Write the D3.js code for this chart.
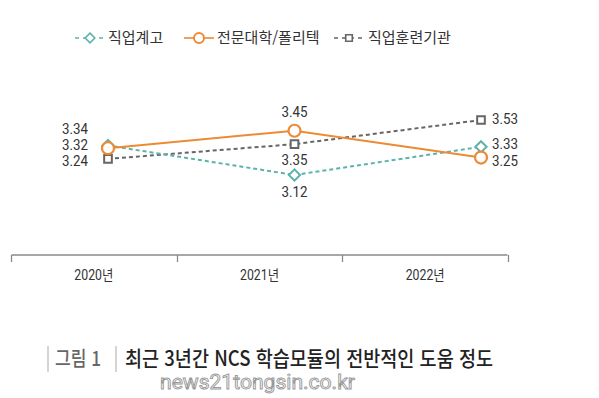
<!DOCTYPE html>
<html lang="ko">
<head>
<meta charset="UTF-8">
<title>최근 3년간 NCS 학습모듈의 전반적인 도움 정도</title>
<script src="https://d3js.org/d3.v7.min.js"></script>
<style>
  body { margin: 0; background: #fff; }
  text { font-family: Roboto, "Noto Sans CJK KR", sans-serif; }
  .kr { font-family: "Noto Sans CJK KR", "Noto Sans", sans-serif; }
</style>
</head>
<body>
<script>
  // data
  const years = ["2020년", "2021년", "2022년"];
  const seriesNames = ["직업계고", "전문대학/폴리텍", "직업훈련기관"];
  const vocational = [3.34, 3.12, 3.33];
  const college = [3.32, 3.45, 3.25];
  const training = [3.24, 3.35, 3.53];

  const width = 599, height = 398;
  const svg = d3.select("body").append("svg")
      .attr("width", width)
      .attr("height", height);

  const series = [
    { name: seriesNames[0], values: vocational, color: "#5cb3a9", dash: "4,3", symbol: d3.symbolDiamond2 },
    { name: seriesNames[1], values: college, color: "#ec8a35", dash: null, symbol: "circle" },
    { name: seriesNames[2], values: training, color: "#666", dash: "4,3", symbol: d3.symbolSquare2 }
  ];

  // scales
  const xBand = d3.scaleBand().domain(years).range([11, 508]);
  const xPoint = d3.scalePoint().domain(years).range([108, 481]);
  const y = d3.scaleLinear().domain([3.12, 3.53]).range([175, 120]);

  // axis
  const axis = svg.append("g")
      .attr("transform", "translate(0,255)")
      .call(d3.axisBottom(xBand).tickSize(0).tickPadding(20));
  axis.select(".domain").attr("stroke", "#8a8a8a").attr("stroke-width", 1.4)
      .attr("d", "M11.5,0H507.5");
  axis.selectAll(".tick text")
      .attr("font-size", 14).attr("fill", "#333")
      .attr("dy", "0.35em")
      .attr("textLength", 39).attr("lengthAdjust", "spacingAndGlyphs");
  // band edge ticks
  svg.append("g").selectAll("line")
    .data(years.map(d => xBand(d)).concat([xBand.range()[1]]))
    .join("line")
      .attr("x1", d => Math.round(d) + 0.5).attr("x2", d => Math.round(d) + 0.5)
      .attr("y1", 255).attr("y2", 262)
      .attr("stroke", "#8a8a8a").attr("stroke-width", 1.3);

  // lines
  const line = d3.line().x((d, i) => xPoint(years[i])).y(d => y(d));
  const order = [2, 0, 1];
  order.forEach(k => {
    const s = series[k];
    svg.append("path")
      .datum(s.values)
      .attr("d", line)
      .attr("fill", "none")
      .attr("stroke", s.color)
      .attr("stroke-width", 2)
      .attr("stroke-dasharray", s.dash);
  });

  function drawSymbol(g, s, cx, cy) {
    if (s.symbol === "circle") {
      g.append("circle").attr("cx", cx).attr("cy", cy).attr("r", 6)
        .attr("fill", "#fff").attr("stroke", s.color).attr("stroke-width", 2.2);
    } else {
      const size = s.symbol === d3.symbolSquare2 ? 75 : 80;
      g.append("path")
        .attr("d", d3.symbol(s.symbol, size)())
        .attr("transform", `translate(${cx},${cy})`)
        .attr("fill", "#fff").attr("stroke", s.color).attr("stroke-width", 2);
    }
  }

  order.forEach(k => {
    const s = series[k];
    const g = svg.append("g");
    s.values.forEach((v, i) => drawSymbol(g, s, xPoint(years[i]), y(v)));
  });

  // value labels
  const lab = svg.append("g").attr("font-size", 14).attr("fill", "#333");
  function valueText(x, cy, v, anchor) {
    lab.append("text").attr("x", x).attr("y", cy).attr("dy", "0.35em")
      .attr("text-anchor", anchor)
      .attr("textLength", 26).attr("lengthAdjust", "spacingAndGlyphs")
      .text(v.toFixed(2));
  }
  // 2020: stacked to the left
  const x0 = xPoint(years[0]) - 20;
  [[vocational[0], 129], [college[0], 145], [training[0], 161]]
    .forEach(([v, cy]) => valueText(x0, cy, v, "end"));
  // 2021: centred above / below
  const x1 = xPoint(years[1]);
  [[college[1], 112], [training[1], 160], [vocational[1], 192]]
    .forEach(([v, cy]) => valueText(x1, cy, v, "middle"));
  // 2022: to the right
  const x2 = xPoint(years[2]) + 11;
  [[training[2], 119], [vocational[2], 144], [college[2], 161]]
    .forEach(([v, cy]) => valueText(x2, cy, v, "start"));

  // legend
  const legendX = [75, 184, 334];
  const legend = svg.append("g").attr("transform", "translate(0,38)");
  series.forEach((s, i) => {
    const g = legend.append("g").attr("transform", `translate(${legendX[i]},0)`);
    g.append("line").attr("x1", 0).attr("x2", 30).attr("y1", 0).attr("y2", 0)
      .attr("stroke", s.color).attr("stroke-width", 1.6)
      .attr("stroke-dasharray", s.dash ? "4,4" : null);
    if (s.symbol === "circle") {
      g.append("circle").attr("cx", 15).attr("cy", 0).attr("r", 5)
        .attr("fill", "#fff").attr("stroke", s.color).attr("stroke-width", 2);
    } else {
      g.append("path").attr("d", d3.symbol(s.symbol, s.symbol === d3.symbolSquare2 ? 55 : 60)())
        .attr("transform", "translate(15,0)")
        .attr("fill", "#fff").attr("stroke", s.color).attr("stroke-width", 1.6);
    }
    g.append("text").attr("class", "kr")
      .attr("x", i === 2 ? 34 : 33).attr("y", 0).attr("dy", "0.35em")
      .attr("font-size", 15).attr("fill", "#333")
      .text(s.name);
  });

  // caption
  const cap = svg.append("g");
  cap.append("line").attr("x1", 48).attr("x2", 48).attr("y1", 346).attr("y2", 372)
    .attr("stroke", "#aaa").attr("stroke-width", 1);
  cap.append("text").attr("class", "kr").attr("x", 55).attr("y", 359).attr("dy", "0.35em")
    .attr("font-size", 20).attr("fill", "#666").attr("font-weight", 500)
    .attr("textLength", 46).attr("lengthAdjust", "spacingAndGlyphs").text("그림 1");
  cap.append("line").attr("x1", 116).attr("x2", 116).attr("y1", 346).attr("y2", 372)
    .attr("stroke", "#aaa").attr("stroke-width", 1);
  cap.append("text").attr("class", "kr").attr("x", 125).attr("y", 359).attr("dy", "0.35em")
    .attr("font-size", 21).attr("fill", "#222").attr("font-weight", 500)
    .attr("textLength", 368).attr("lengthAdjust", "spacingAndGlyphs")
    .text("최근 3년간 NCS 학습모듈의 전반적인 도움 정도");

  // watermark
  svg.append("text").attr("x", 160).attr("y", 382).attr("dy", "0.35em")
    .attr("font-family", "Roboto, sans-serif")
    .attr("font-size", 20).attr("fill", "#fff").attr("stroke", "#999").attr("stroke-width", 0.9)
    .attr("textLength", 195).attr("lengthAdjust", "spacingAndGlyphs")
    .text("news21tongsin.co.kr");
</script>
</body>
</html>
